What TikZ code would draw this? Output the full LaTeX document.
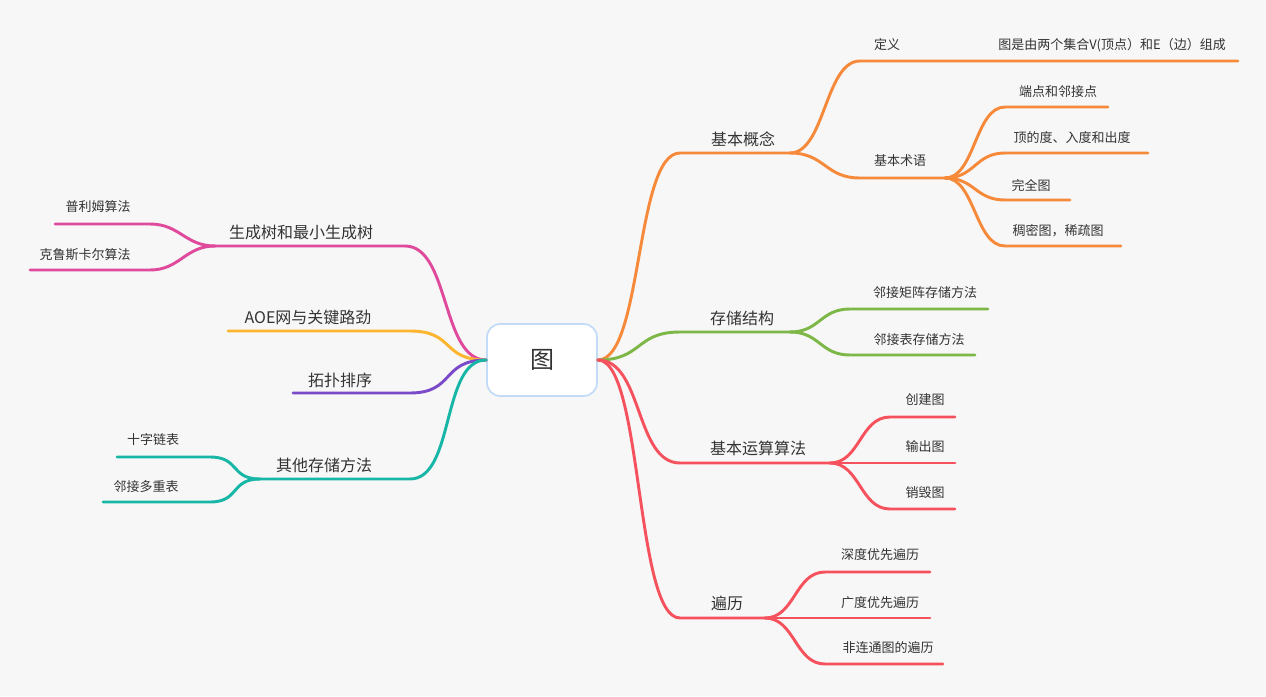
\documentclass[tikz,border=0pt]{standalone}
\usepackage{fontspec}
\newfontfamily\cjk{Noto Sans CJK SC}
\definecolor{bgcol}{HTML}{F7F7F7}
\definecolor{txt}{HTML}{333333}
\definecolor{rootln}{HTML}{C3DBF7}
\definecolor{orln}{HTML}{F6893A}
\definecolor{grln}{HTML}{7CB747}
\definecolor{rdln}{HTML}{F5525E}
\definecolor{pkln}{HTML}{E04A9C}
\definecolor{yeln}{HTML}{FBB52E}
\definecolor{puln}{HTML}{7A4AC8}
\definecolor{tlln}{HTML}{18B6A6}
\tikzset{
  sbend/.style={to path={.. controls +(#1,0) and +(-#1,0) .. (\tikztotarget)}},
  link/.style={line width=2.2pt, line cap=round},
  rootbox/.style={draw=rootln, fill=white, rounded corners=10pt, line width=1.3pt,
    minimum width=82.5pt, minimum height=54pt, text=txt,
    font=\cjk\fontsize{18}{20}\selectfont},
  lvone/.style={inner sep=0pt, text=txt, font=\cjk\fontsize{12}{14}\selectfont},
  lvtwo/.style={inner sep=0pt, text=txt, font=\cjk\fontsize{9.75}{12}\selectfont}
}
\begin{document}
\begin{tikzpicture}[x=0.75pt, y=-0.75pt]
    % 背景
    \fill[bgcol] (0,0) rectangle (1266,696);

    % 中心主题
    \node[rootbox] (tu) at (542,360) {图};

    % 基本概念
    \coordinate (gnA) at (680,153);
    \coordinate (gnB) at (790,153);
    \node[lvone] (gn) at (743,139) {基本概念};
    \draw[link, orln] (tu.east) to[sbend=45] (gnA) -- (gnB);
    \node[lvtwo] (dy) at (887,45) {定义};
    \node[lvtwo] (dyx) at (1112,45) {图是由两个集合V(顶点）和E（边）组成};
    \draw[link, orln] (gnB) to[sbend=35] (860,61) coordinate (dyA) -- (1238,61) coordinate (dyB);
    \node[lvtwo] (sy) at (900,161) {基本术语};
    \draw[link, orln] (gnB) to[sbend=35] (860,178) coordinate (syA) -- (945,178) coordinate (syB);
    \node[lvtwo] (dd) at (1058,92) {端点和邻接点};
    \node[lvtwo] (dg) at (1072,138) {顶的度、入度和出度};
    \node[lvtwo] (wq) at (1031,185) {完全图};
    \node[lvtwo] (cm) at (1058,231) {稠密图，稀疏图};
    \draw[link, orln] (syB) to[sbend=30] (1005,107) -- (1108,107);
    \draw[link, orln] (syB) to[sbend=30] (1005,153) -- (1148,153);
    \draw[link, orln] (syB) to[sbend=30] (1005,200) -- (1070,200);
    \draw[link, orln] (syB) to[sbend=30] (1005,246) -- (1121,246);

    % 存储结构
    \coordinate (ccA) at (680,332);
    \coordinate (ccB) at (790,332);
    \node[lvone] (cc) at (742,318) {存储结构};
    \draw[link, grln] (tu.east) to[sbend=45] (ccA) -- (ccB);
    \node[lvtwo] (jz) at (925,293) {邻接矩阵存储方法};
    \node[lvtwo] (lb) at (919,340) {邻接表存储方法};
    \draw[link, grln] (ccB) to[sbend=30] (850,309) -- (988,309);
    \draw[link, grln] (ccB) to[sbend=30] (850,355) -- (975,355);

    % 基本运算算法
    \coordinate (ysA) at (680,463);
    \coordinate (ysB) at (830,463);
    \node[lvone] (ys) at (758,448) {基本运算算法};
    \draw[link, rdln] (tu.east) to[sbend=45] (ysA) -- (ysB);
    \node[lvtwo] (cj) at (925,400) {创建图};
    \node[lvtwo] (sc) at (925,447) {输出图};
    \node[lvtwo] (xh) at (925,493) {销毁图};
    \draw[link, rdln] (ysB) to[sbend=30] (890,417) -- (955,417);
    \draw[link, rdln] (ysB) -- (955,463);
    \draw[link, rdln] (ysB) to[sbend=30] (890,509) -- (955,509);

    % 遍历
    \coordinate (blA) at (680,618);
    \coordinate (blB) at (765,618);
    \node[lvone] (bl) at (727,603) {遍历};
    \draw[link, rdln] (tu.east) to[sbend=45] (blA) -- (blB);
    \node[lvtwo] (sd) at (880,555) {深度优先遍历};
    \node[lvtwo] (gd) at (880,603) {广度优先遍历};
    \node[lvtwo] (fl) at (888,648) {非连通图的遍历};
    \draw[link, rdln] (blB) to[sbend=30] (825,572) -- (930,572);
    \draw[link, rdln] (blB) -- (930,618);
    \draw[link, rdln] (blB) to[sbend=30] (825,664) -- (943,664);

    % 生成树和最小生成树
    \coordinate (scA) at (405,246);
    \coordinate (scB) at (215,246);
    \node[lvone] (scs) at (301,232) {生成树和最小生成树};
    \draw[link, pkln] (tu.west) to[sbend=-45] (scA) -- (scB);
    \node[lvtwo] (plm) at (98,207) {普利姆算法};
    \node[lvtwo] (krs) at (85,255) {克鲁斯卡尔算法};
    \draw[link, pkln] (scB) to[sbend=-30] (150,224) -- (55,224);
    \draw[link, pkln] (scB) to[sbend=-30] (150,270) -- (30,270);

    % AOE网与关键路劲
    \node[lvone] (aoe) at (308,317) {AOE网与关键路劲};
    \draw[link, yeln] (tu.west) to[sbend=-45] (410,331) coordinate (aoeA) -- (228,331) coordinate (aoeB);

    % 拓扑排序
    \node[lvone] (tp) at (340,380) {拓扑排序};
    \draw[link, puln] (tu.west) to[sbend=-45] (410,393) coordinate (tpA) -- (293,393) coordinate (tpB);

    % 其他存储方法
    \coordinate (qtA) at (410,479);
    \coordinate (qtB) at (260,479);
    \node[lvone] (qt) at (324,465) {其他存储方法};
    \draw[link, tlln] (tu.west) to[sbend=-45] (qtA) -- (qtB);
    \node[lvtwo] (sz) at (153,440) {十字链表};
    \node[lvtwo] (dc) at (146,487) {邻接多重表};
    \draw[link, tlln] (qtB) to[sbend=-30] (210,457) -- (117,457);
    \draw[link, tlln] (qtB) to[sbend=-30] (210,502) -- (103,502);
\end{tikzpicture}
\end{document}
